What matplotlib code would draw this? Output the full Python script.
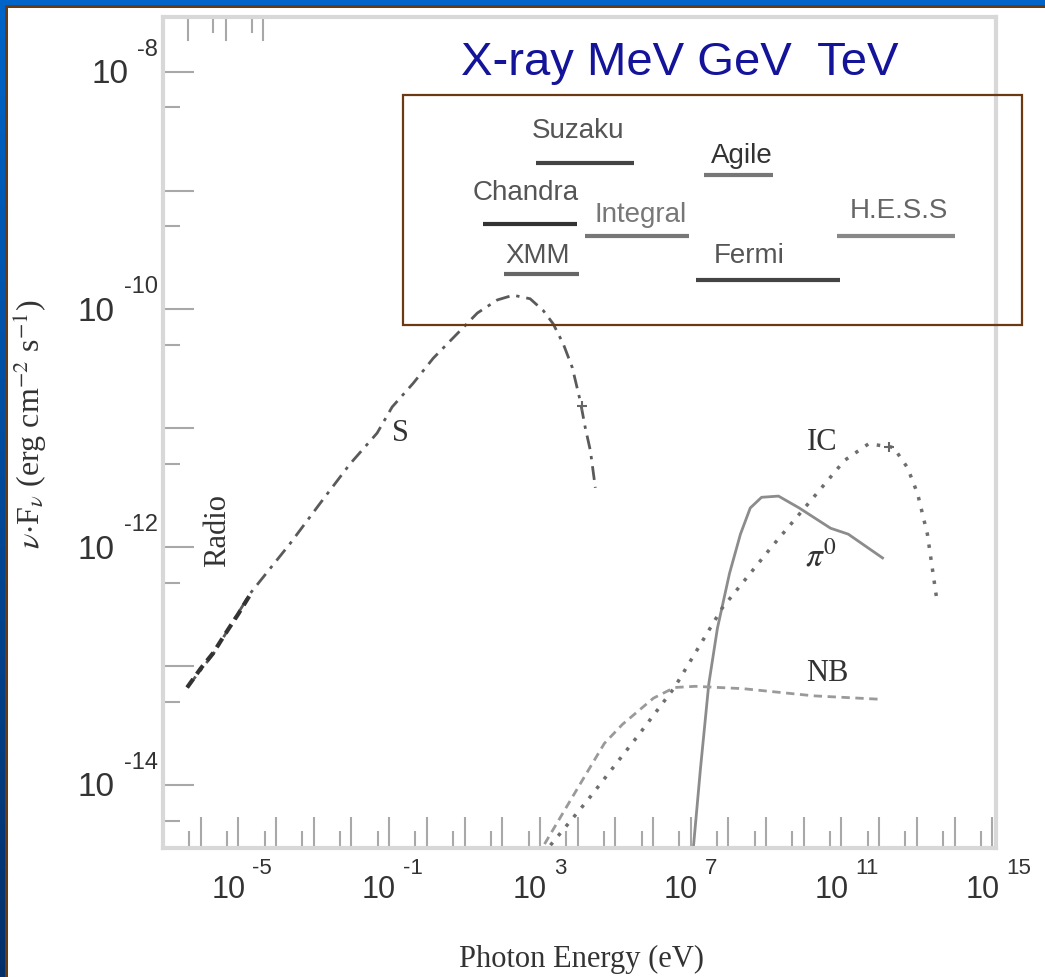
import numpy as np
import matplotlib
matplotlib.use("Agg")
from matplotlib import pyplot as plt
from matplotlib.patches import Rectangle
from matplotlib.colors import LinearSegmentedColormap

plt.rcParams['font.family'] = ['Liberation Serif', 'DejaVu Serif']
plt.rcParams['mathtext.fontset'] = 'stix'

# ---- data (log10 photon energy [eV], log10 nuFnu [erg cm-2 s-1]) ----
sync_logE = [-6.36, -5.67, -4.69, -3.63, -2.83, -2.04, -1.32, -0.92, -0.36, 0.17,
             0.88, 1.34, 1.87, 2.29, 2.74, 3.09, 3.35, 3.62, 3.86, 4.07, 4.20, 4.34, 4.47]
sync_logF = [-13.18, -12.90, -12.39, -11.97, -11.63, -11.30, -11.04, -10.82, -10.62, -10.41,
             -10.18, -10.03, -9.92, -9.88, -9.91, -10.01, -10.12, -10.29, -10.49, -10.77,
             -10.99, -11.19, -11.50]

radio_logE = [-6.36, -6.00, -5.67, -5.35, -5.00, -4.69]
radio_logF = [-13.18, -13.02, -12.89, -12.73, -12.56, -12.40]

pi0_logE = [7.04, 7.07, 7.26, 7.48, 7.71, 8.03, 8.32, 8.58, 8.88, 9.33, 9.88, 10.71, 11.18, 12.09]
pi0_logF = [-14.7, -14.53, -13.86, -13.15, -12.68, -12.22, -11.89, -11.67, -11.58, -11.57,
            -11.67, -11.84, -11.89, -12.09]

ic_logE = [3.15, 3.27, 4.26, 5.64, 6.57, 7.84, 9.14, 10.26, 11.08, 11.72, 12.38, 12.75,
           13.02, 13.28, 13.52]
ic_logF = [-14.6, -14.51, -14.13, -13.57, -13.18, -12.51, -12.00, -11.58, -11.27, -11.13,
           -11.16, -11.33, -11.55, -11.89, -12.42]

nb_logE = [2.95, 3.06, 4.07, 4.71, 5.19, 6.01, 6.57, 7.12, 8.40, 10.26, 12.09]
nb_logF = [-14.6, -14.53, -13.99, -13.65, -13.49, -13.27, -13.18, -13.17, -13.19, -13.25, -13.28]

# measured points (X-ray and TeV)
obs_logE = [4.12, 12.27]
obs_logF = [-10.81, -11.16]

# instrument bands drawn in the inset box
inst_names = ['Suzaku', 'Agile', 'Chandra', 'Integral', 'H.E.S.S', 'XMM', 'Fermi']
inst_logE_lo = [2.90, 7.34, 1.50, 4.20, 10.87, 2.05, 7.15]
inst_logE_hi = [5.50, 9.19, 3.99, 6.96, 14.00, 4.04, 10.96]
inst_logF = [-8.77, -8.87, -9.28, -9.38, -9.38, -9.70, -9.75]

xtick_exps = [-5, -1, 3, 7, 11, 15]
ytick_exps = [-8, -10, -12, -14]

# ---- layout ----
W, H = 1045, 977
fig = plt.figure(figsize=(W / 100, H / 100), dpi=100)
fig.patch.set_facecolor('white')

# blue frame (gradient on the left) with brown inner line
grad = fig.add_axes([0, 0, 5 / W, 1])
grad.imshow(np.linspace(0, 1, 256).reshape(-1, 1), aspect='auto',
            cmap=LinearSegmentedColormap.from_list('frame', ['#0064c8', '#05306a']))
grad.set_axis_off()
fig.add_artist(Rectangle((0, 1 - 5 / H), 1, 5 / H, transform=fig.transFigure,
                         color='#0064c8', lw=0))
fig.add_artist(Rectangle((5 / W, 1 - 8 / H), 1, 3 / H, transform=fig.transFigure,
                         color='#6b3a10', lw=0))
fig.add_artist(Rectangle((5 / W, 0), 3 / W, 1 - 5 / H, transform=fig.transFigure,
                         color='#6b3a10', lw=0))

ax = fig.add_axes([163 / W, (H - 848) / H, (996 - 163) / W, (848 - 17) / H])
ax.set_xscale('log')
ax.set_yscale('log')

for s in ['left', 'bottom', 'top', 'right']:
    ax.spines[s].set_color('#d8d8d8')
    ax.spines[s].set_linewidth(3)

def pw(a):
    return 10.0 ** np.array(a)

ax.plot(pw(sync_logE), pw(sync_logF), color='#5a5a5a', lw=2, ls=(0, (5, 2.5, 1.2, 2.5)))
ax.plot(pw(radio_logE), pw(radio_logF), color='#333333', lw=3, ls=(0, (2.5, 1.5)))
ax.plot(pw(pi0_logE), pw(pi0_logF), color='#8c8c8c', lw=2, ls='-')
ax.plot(pw(ic_logE), pw(ic_logF), color='#6e6e6e', lw=2.5, ls=(0, (1, 2.5)))
ax.plot(pw(nb_logE), pw(nb_logF), color='#9a9a9a', lw=2, ls=(0, (3, 2)))
ax.plot(pw(obs_logE), pw(obs_logF), ls='none', marker='+', ms=7, mew=1.5, color='#666666')

# ticks at 1 and 5 of every decade, pointing inward
ax.set_xticks(pw(np.arange(-7, 16)))
ax.set_xticks(5 * pw(np.arange(-7, 15)), minor=True)
ax.set_yticks(pw(np.arange(-15, -6)))
ax.set_yticks(5 * pw(np.arange(-15, -7)), minor=True)
ax.tick_params(which='both', direction='in', color='#a8a8a8', width=1.5,
               labelbottom=False, labelleft=False, top=False, right=False)
ax.tick_params(which='major', length=22)
ax.tick_params(which='minor', length=12)
ax.set_xlim(1e-7, 10 ** 15.1)
ax.set_ylim(10 ** -14.53, 10 ** -7.54)

# a few top ticks surviving at the upper left
top_tick_logE = [-6.34, -5.67, -5.33, -4.64, -4.35]
top_tick_len = [0.028, 0.018, 0.028, 0.018, 0.028]
for e, L in zip(top_tick_logE, top_tick_len):
    ax.plot([10 ** e, 10 ** e], [1, 1 - L], transform=ax.get_xaxis_transform(),
            color='#a8a8a8', lw=1.5, clip_on=False)

lab_col = '#333333'
for e in xtick_exps:
    ax.annotate('10', xy=(10.0 ** e, 0), xycoords=ax.get_xaxis_transform(),
                xytext=(-10, -42), textcoords='offset pixels', ha='center', va='center',
                fontsize=22, family='Liberation Sans', color=lab_col, annotation_clip=False)
    ax.annotate(str(e), xy=(10.0 ** e, 0), xycoords=ax.get_xaxis_transform(),
                xytext=(14, -20), textcoords='offset pixels', ha='left', va='center',
                fontsize=16, family='Liberation Sans', color=lab_col, annotation_clip=False)

for e in ytick_exps:
    t = ax.annotate(str(e), xy=(0, 10.0 ** e), xycoords=ax.get_yaxis_transform(),
                    xytext=(-5, 22), textcoords='offset pixels', ha='right', va='center',
                    fontsize=17, family='Liberation Sans', color=lab_col, annotation_clip=False)
    ax.annotate('10', xy=(0, 0.5), xycoords=t, xytext=(-9, -25), textcoords='offset pixels',
                ha='right', va='center', fontsize=24, family='Liberation Sans', color=lab_col,
                annotation_clip=False)

ax.set_xlabel('Photon Energy (eV)', fontsize=22, color='#333333')
ax.xaxis.set_label_coords(0.503, -0.117)
ax.set_ylabel(r'$\nu$$\cdot$F$_\nu$ (erg cm$^{-2}$ s$^{-1}$)', fontsize=23, color='#333333')
ax.yaxis.label.set_va('center')
ax.yaxis.set_label_coords(-0.16, 0.51)

# curve labels
ax.text(10 ** -0.71, 10 ** -11.04, 'S', fontsize=22, color='#333333', ha='center', va='center')
ax.text(10 ** 10.48, 10 ** -11.12, 'IC', fontsize=22, color='#333333', ha='center', va='center')
ax.text(10 ** 10.45, 10 ** -12.08, r'$\pi^0$', fontsize=24, color='#333333', ha='center', va='center')
ax.text(10 ** 10.62, 10 ** -13.06, 'NB', fontsize=22, color='#333333', ha='center', va='center')
ax.text(10 ** -5.54, 10 ** -11.86, 'Radio', fontsize=22, color='#333333', ha='center',
        va='center', rotation=90)

# inset box with instrument bands
fig.add_artist(Rectangle((403 / W, (H - 325) / H), 619 / W, 230 / H, transform=fig.transFigure,
                         fill=False, edgecolor='#6b3a12', lw=1.6))
bar_cols = ['#444444', '#777777', '#333333', '#777777', '#888888', '#666666', '#444444']
txt_cols = ['#555555', '#333333', '#555555', '#777777', '#666666', '#555555', '#555555']
txt_off = [(-7, 32), (3, 19), (-5, 31), (3, 21), (3, 25), (-4, 18), (-19, 24)]
for i, name in enumerate(inst_names):
    lo, hi = 10 ** inst_logE_lo[i], 10 ** inst_logE_hi[i]
    y = 10 ** inst_logF[i]
    ax.plot([lo, hi], [y, y], color=bar_cols[i], lw=3, solid_capstyle='butt', clip_on=False)
    mid = 10 ** ((inst_logE_lo[i] + inst_logE_hi[i]) / 2)
    ax.annotate(name, xy=(mid, y), xytext=txt_off[i], textcoords='offset pixels',
                ha='center', va='center', fontsize=20, family='Liberation Sans',
                color=txt_cols[i], annotation_clip=False)

fig.text(680 / W, 1 - 63 / H, 'X-ray MeV GeV  TeV', fontsize=34, family='Liberation Sans',
         color='#14149b', ha='center', va='center')

fig.savefig('out.png', dpi=100, facecolor=fig.get_facecolor())
